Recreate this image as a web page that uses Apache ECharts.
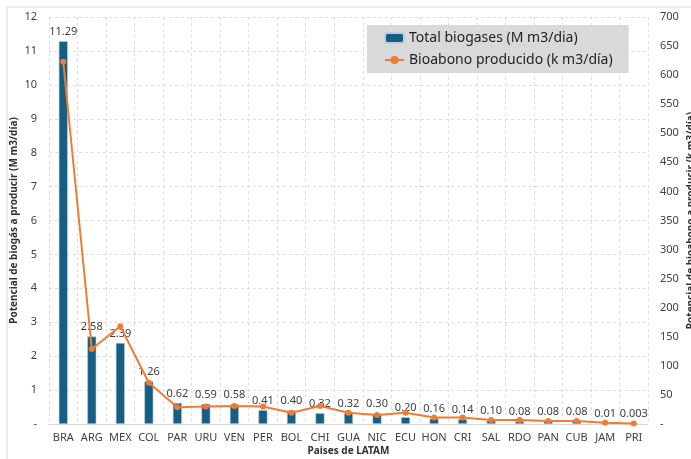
<!DOCTYPE html>
<html>
<head>
<meta charset="utf-8">
<script src="https://cdn.jsdelivr.net/npm/echarts@6/dist/echarts.min.js"></script>
<style>
  html, body { margin: 0; padding: 0; background: #ffffff; }
  #chart { width: 691px; height: 459px; }
</style>
</head>
<body>
<div id="chart"></div>
<script>
// Países de LATAM
const countries = ['BRA', 'ARG', 'MEX', 'COL', 'PAR', 'URU', 'VEN', 'PER', 'BOL', 'CHI', 'GUA',
  'NIC', 'ECU', 'HON', 'CRI', 'SAL', 'RDO', 'PAN', 'CUB', 'JAM', 'PRI'];

// Total biogases (M m3/día)
const biogas = [11.29, 2.58, 2.39, 1.26, 0.62, 0.59, 0.58, 0.41, 0.40, 0.32, 0.32,
  0.30, 0.20, 0.16, 0.14, 0.10, 0.08, 0.08, 0.08, 0.01, 0.003];

// Bioabono producido (k m3/día)
const bioabono = [623, 129, 168, 71, 29, 30, 31, 30, 19.5, 31, 19.5,
  15.5, 19.5, 11, 11, 7, 7, 5, 5, 2.2, 1];

const FONT = 'Noto Sans';
const chart = echarts.init(document.getElementById('chart'));

const dashLine = { show: true, lineStyle: { color: '#dedede', type: [3, 3], width: 1 } };
const tickFmt = v => (v === 0 ? '-' : String(v));

chart.setOption({
  animation: false,
  textStyle: { fontFamily: FONT },
  graphic: [{
    type: 'rect',
    shape: { x: 7, y: 7, width: 700, height: 470 },
    style: { fill: 'none', stroke: '#d9d9d9', lineWidth: 1 },
    silent: true,
    z: -10
  }],
  grid: { left: 49, right: 43, top: 17, bottom: 35, containLabel: false, outerBoundsMode: 'none' },
  legend: {
    orient: 'vertical',
    left: 367,
    top: 25,
    backgroundColor: '#d9d9d9',
    padding: [6, 16, 6, 17],
    itemGap: 8,
    itemWidth: 19,
    itemHeight: 10,
    textStyle: { fontFamily: FONT, fontSize: 14, color: '#1f1f1f' },
    data: ['Total biogases (M m3/dia)', 'Bioabono producido (k m3/día)']
  },
  xAxis: {
    type: 'category',
    data: countries,
    name: 'Paises de LATAM',
    nameLocation: 'middle',
    nameGap: 22,
    nameMoveOverlap: false,
    nameTextStyle: { fontFamily: FONT, fontSize: 10, fontWeight: 'bold', color: '#303030' },
    axisLine: { show: true, lineStyle: { color: '#d9d9d9' } },
    axisTick: { show: false },
    axisLabel: { fontFamily: FONT, fontSize: 11, color: '#404040', margin: 8, interval: 0 },
    splitLine: { show: true, interval: 0, lineStyle: { color: '#dedede', type: [3, 3] } }
  },
  yAxis: [{
    type: 'value',
    min: 0, max: 12, interval: 1,
    name: 'Potencial de biogás a producir (M m3/día)',
    nameLocation: 'middle',
    nameRotate: 90,
    nameGap: 30,
    nameMoveOverlap: false,
    nameTextStyle: { fontFamily: FONT, fontSize: 10, fontWeight: 'bold', color: '#303030' },
    axisLine: { show: false },
    axisTick: { show: false },
    axisLabel: { fontFamily: FONT, fontSize: 11, color: '#404040', margin: 12, formatter: tickFmt },
    splitLine: dashLine
  }, {
    type: 'value',
    min: 0, max: 700, interval: 50,
    position: 'right',
    name: 'Potencial de bioabono a producir (k m3/día)',
    nameLocation: 'middle',
    nameRotate: 90,
    nameGap: 38,
    nameMoveOverlap: false,
    nameTextStyle: { fontFamily: FONT, fontSize: 10, fontWeight: 'bold', color: '#303030' },
    axisLine: { show: false },
    axisTick: { show: false },
    axisLabel: { fontFamily: FONT, fontSize: 11, color: '#404040', margin: 12, formatter: tickFmt },
    splitLine: { show: false }
  }],
  series: [{
    name: 'Total biogases (M m3/dia)',
    type: 'bar',
    yAxisIndex: 0,
    data: biogas,
    barWidth: 9,
    itemStyle: { color: '#165f84', borderColor: '#b9d0dc', borderWidth: 0.6 },
    label: {
      show: true,
      position: 'top',
      distance: 4,
      fontFamily: FONT,
      fontSize: 11,
      color: '#404040',
      formatter: p => (p.value < 0.01 ? p.value.toFixed(3) : p.value.toFixed(2))
    }
  }, {
    name: 'Bioabono producido (k m3/día)',
    type: 'line',
    yAxisIndex: 1,
    data: bioabono,
    symbol: 'circle',
    symbolSize: 6,
    lineStyle: { color: '#f07c34', width: 2 },
    itemStyle: { color: '#f07c34' },
    z: 3
  }]
});
</script>
</body>
</html>
